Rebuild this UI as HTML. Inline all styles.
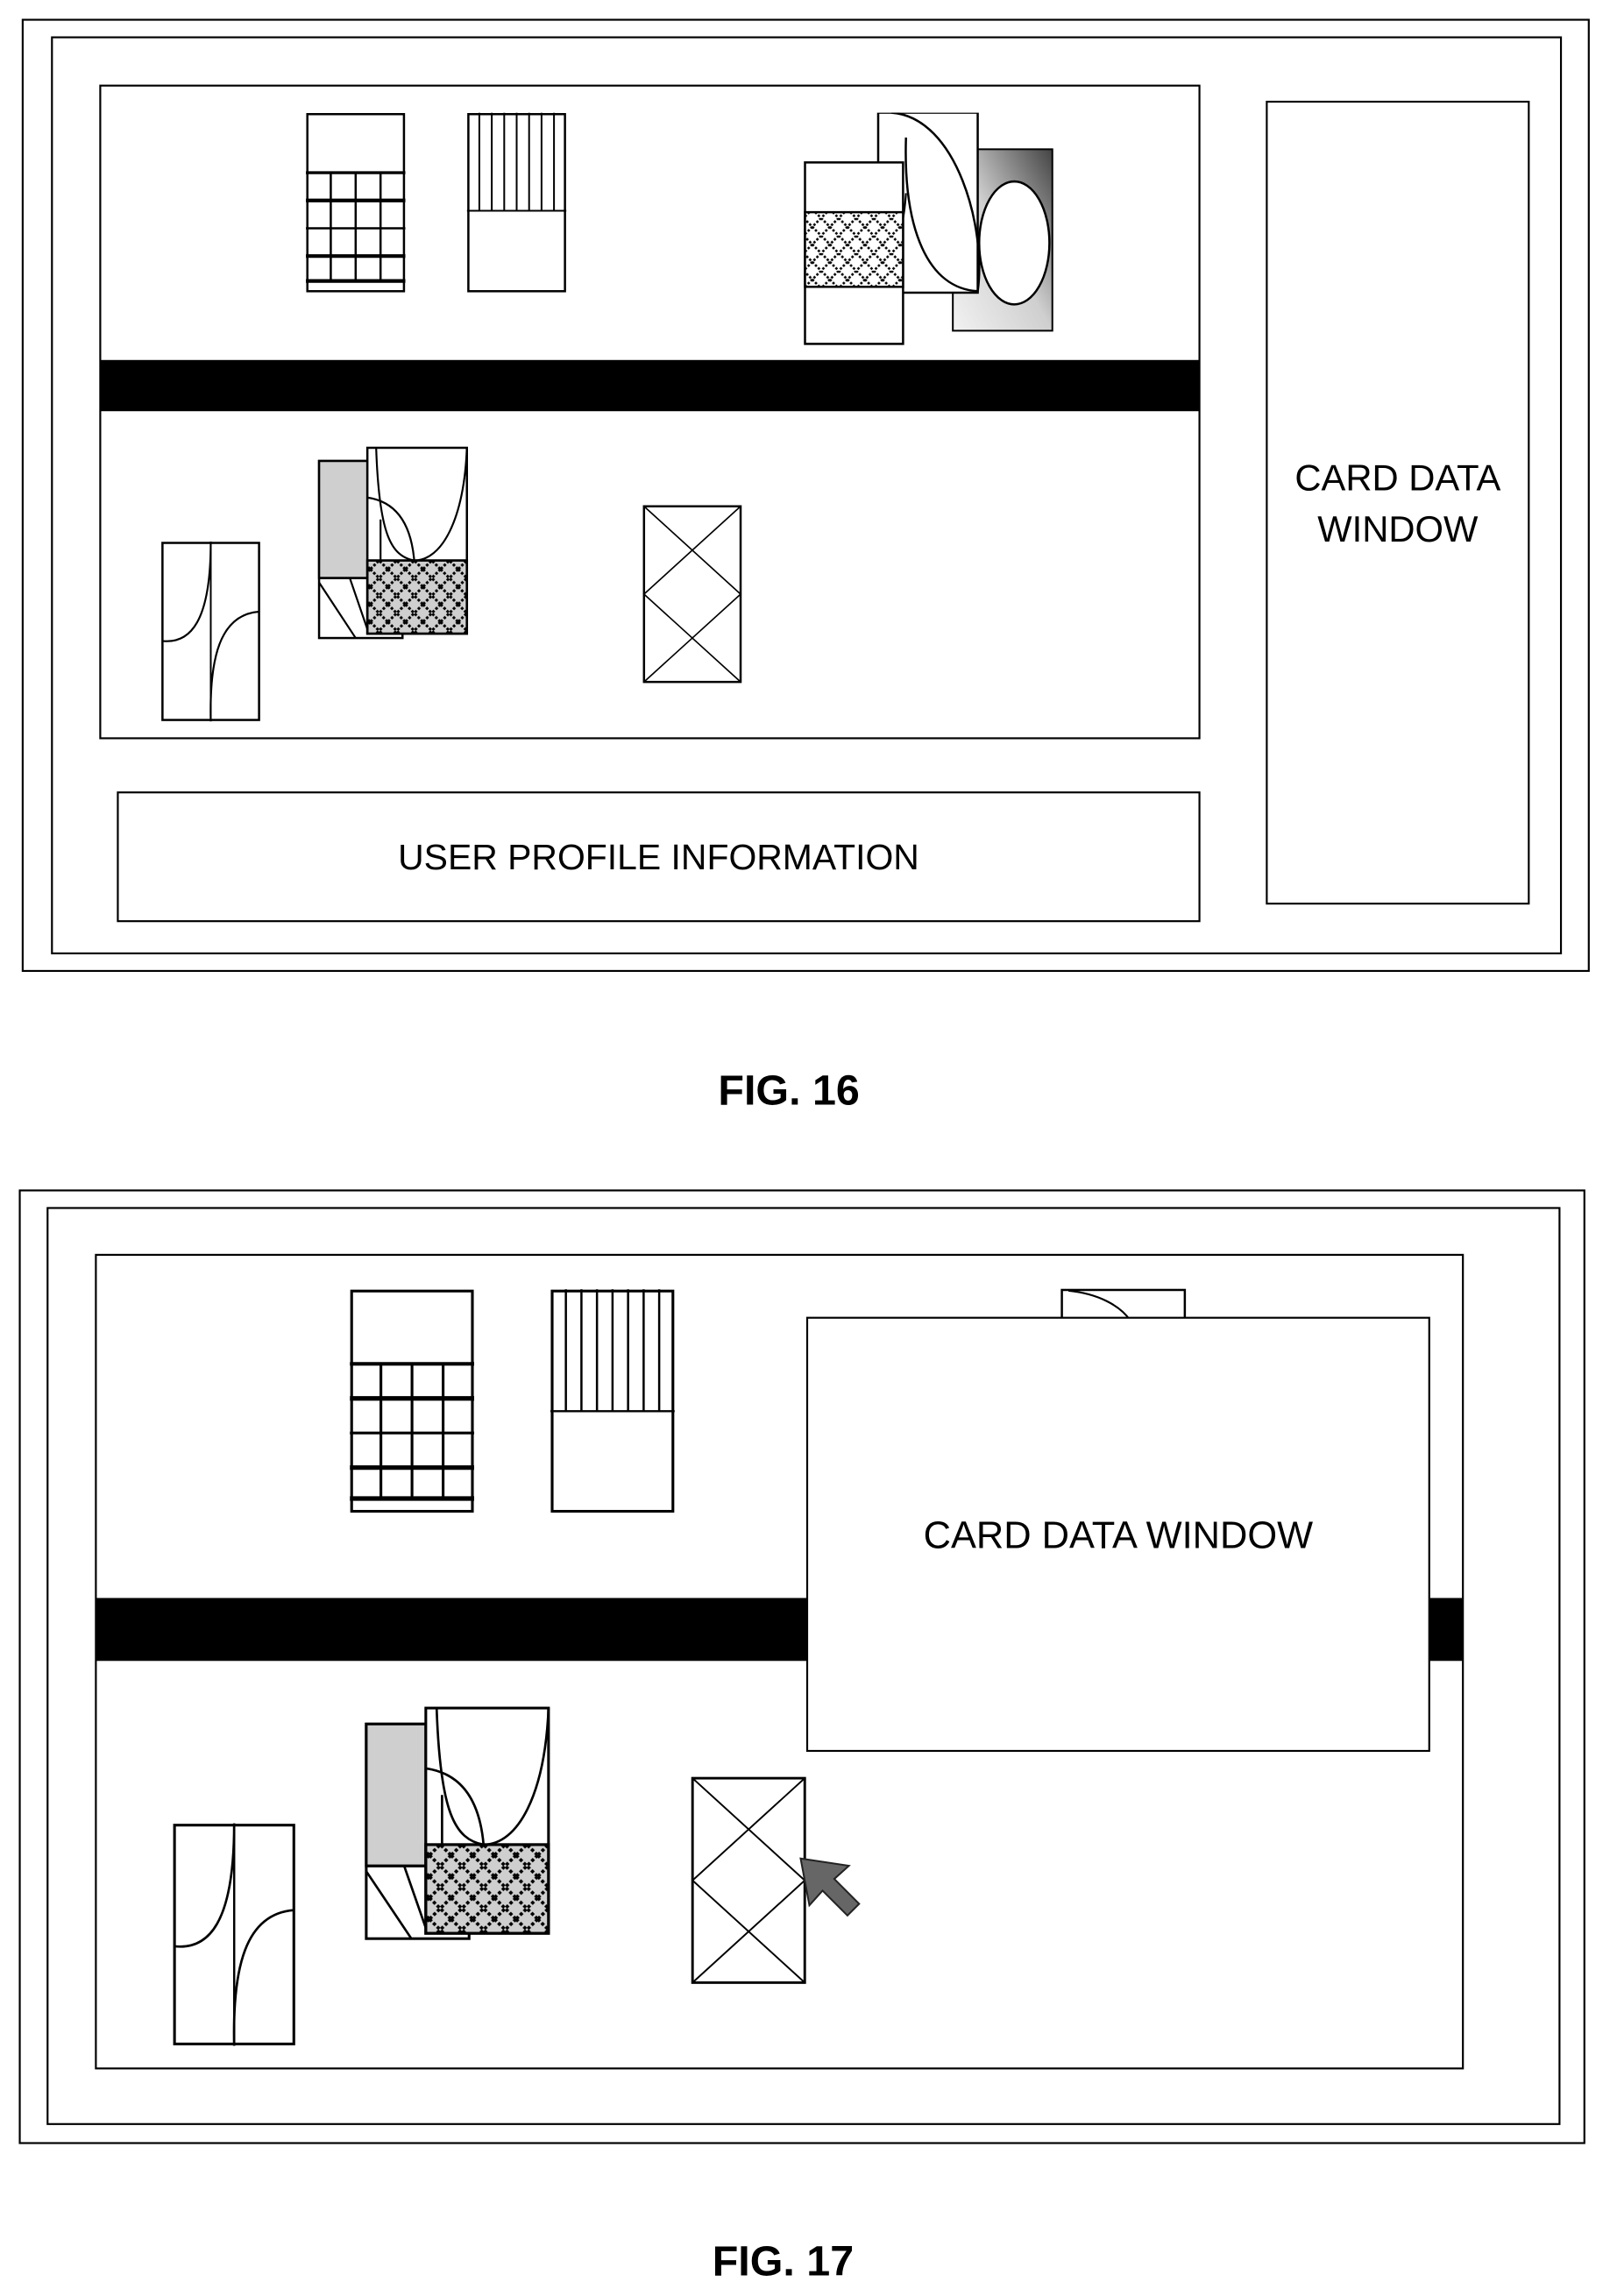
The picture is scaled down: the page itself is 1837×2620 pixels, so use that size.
<!DOCTYPE html>
<html><head><meta charset="utf-8"><style>
html,body{margin:0;padding:0;background:#fff;}
svg{display:block;}
text{font-family:"Liberation Sans",sans-serif;}
</style></head><body>
<svg width="1837" height="2620" viewBox="0 0 1100 1569" preserveAspectRatio="none" xmlns="http://www.w3.org/2000/svg">
<defs>
<pattern id="dia" width="12" height="12" patternUnits="userSpaceOnUse">
<rect width="12" height="12" fill="#fff"/>
<path d="M0,0 L12,12 M12,0 L0,12" stroke="#000" stroke-width="1.6" stroke-dasharray="1.6,1.2"/>
</pattern>
<pattern id="dia2" width="12" height="12" patternUnits="userSpaceOnUse">
<rect width="12" height="12" fill="#cfcfcf"/>
<path d="M0,0 L12,12 M12,0 L0,12" stroke="#000" stroke-width="1.8" stroke-dasharray="1.8,1.2"/>
</pattern>
<linearGradient id="grad" x1="0" y1="1" x2="1" y2="0">
<stop offset="0" stop-color="#f2f2f2"/><stop offset="0.5" stop-color="#cfcfcf"/><stop offset="1" stop-color="#444"/>
</linearGradient>
<symbol id="grid" viewBox="0 0 68 123" preserveAspectRatio="none">
<rect x="1" y="1" width="66" height="121" fill="#fff" stroke="#000" stroke-width="1.5"/>
<g stroke="#000" stroke-width="1.5">
<line x1="0" y1="41" x2="68" y2="41" stroke-width="2"/>
<line x1="0" y1="60" x2="68" y2="60" stroke-width="2.5"/>
<line x1="0" y1="79" x2="68" y2="79" stroke-width="1.5"/>
<line x1="0" y1="98" x2="68" y2="98" stroke-width="2.5"/>
<line x1="0" y1="115" x2="68" y2="115" stroke-width="2.5"/>
<line x1="17" y1="41" x2="17" y2="115"/>
<line x1="34" y1="41" x2="34" y2="115"/>
<line x1="51" y1="41" x2="51" y2="115"/>
</g></symbol>
<symbol id="stripe" viewBox="0 0 68 123" preserveAspectRatio="none">
<rect x="1" y="1" width="66" height="121" fill="#fff" stroke="#000" stroke-width="1.5"/>
<g stroke="#000" stroke-width="1.2">
<line x1="0" y1="67" x2="68" y2="67"/>
<line x1="8.5" y1="0" x2="8.5" y2="67"/><line x1="17" y1="0" x2="17" y2="67"/><line x1="25.5" y1="0" x2="25.5" y2="67"/><line x1="34" y1="0" x2="34" y2="67"/><line x1="42.5" y1="0" x2="42.5" y2="67"/><line x1="51" y1="0" x2="51" y2="67"/><line x1="59.5" y1="0" x2="59.5" y2="67"/>
</g></symbol>
<symbol id="xcard" viewBox="0 0 68 123" preserveAspectRatio="none">
<rect x="1" y="1" width="66" height="121" fill="#fff" stroke="#000" stroke-width="1.5"/>
<path d="M1,1 L67,61.5 L1,122 M67,1 L1,61.5 L67,122" fill="none" stroke="#000" stroke-width="1"/>
</symbol>
<symbol id="arc" viewBox="0 0 68 123" preserveAspectRatio="none">
<rect x="1" y="1" width="66" height="121" fill="#fff" stroke="#000" stroke-width="1.5"/>
<line x1="34" y1="0" x2="34" y2="123" stroke="#000" stroke-width="1.2"/>
<path d="M1,68 C20,70 34,55 34,0" fill="none" stroke="#000" stroke-width="1.3"/>
<path d="M34,123 C33,80 40,50 67,48" fill="none" stroke="#000" stroke-width="1.3"/>
</symbol>
<symbol id="stack" viewBox="0 0 171 160" preserveAspectRatio="none">
<rect x="102" y="25" width="68" height="124" fill="url(#grad)" stroke="#000" stroke-width="1.2"/>
<rect x="51" y="0" width="68" height="123" fill="#fff" stroke="#000" stroke-width="1.5"/>
<path d="M60,0 C105,3 125,80 119,122 C85,120 68,80 70,17" fill="none" stroke="#000" stroke-width="1.5"/>
<path d="M70,55 C68,85 62,93 52,95" fill="none" stroke="#000" stroke-width="1.3"/>
<ellipse cx="144" cy="89" rx="24" ry="42" fill="#fff" stroke="#000" stroke-width="1.5"/>
<rect x="1" y="34" width="67" height="124" fill="#fff" stroke="#000" stroke-width="1.5"/>
<rect x="1" y="68" width="67" height="51" fill="url(#dia)" stroke="#000" stroke-width="1.5"/>
</symbol>
<symbol id="lgroup" viewBox="0 0 103 132" preserveAspectRatio="none">
<rect x="1" y="10" width="57" height="121" fill="#fff" stroke="#000" stroke-width="1.5"/>
<rect x="1" y="10" width="33" height="80" fill="#cfcfcf" stroke="#000" stroke-width="1.5"/>
<line x1="1" y1="90" x2="34" y2="90" stroke="#000" stroke-width="1.5"/>
<path d="M1,93 L26,131 M22,90 L34,125" stroke="#000" stroke-width="1.3"/>
<rect x="34" y="1" width="68" height="127" fill="#fff" stroke="#000" stroke-width="1.5"/>
<path d="M40,1 C42,60 50,75 66,78 C85,78 100,50 102,1" fill="none" stroke="#000" stroke-width="1.3"/>
<path d="M34,35 C55,38 64,55 66,78" fill="none" stroke="#000" stroke-width="1.3"/>
<line x1="43" y1="50" x2="43" y2="78" stroke="#000" stroke-width="1.3"/>
<rect x="34" y="78" width="68" height="50" fill="url(#dia2)" stroke="#000" stroke-width="1.6"/>
</symbol>
</defs>

<!-- FIG 16 -->
<rect x="15.5" y="13.5" width="1070" height="650" fill="none" stroke="#000" stroke-width="1.3"/>
<rect x="35.5" y="25.5" width="1031" height="626" fill="none" stroke="#000" stroke-width="1.3"/>
<rect x="68.5" y="58.5" width="751" height="446" fill="none" stroke="#000" stroke-width="1.3"/>
<rect x="68" y="246" width="752" height="35" fill="#000"/>
<use href="#grid" x="209" y="77" width="68" height="123"/>
<use href="#stripe" x="319" y="77" width="68" height="123"/>
<use href="#stack" x="549" y="77" width="171" height="160"/>
<use href="#arc" x="110" y="370" width="68" height="123"/>
<use href="#lgroup" x="217" y="305" width="103" height="132"/>
<use href="#xcard" x="439" y="345" width="68" height="122"/>
<rect x="865.5" y="69.5" width="179" height="548" fill="none" stroke="#000" stroke-width="1.3"/>
<text x="955" y="335" font-size="25" text-anchor="middle">CARD DATA</text>
<text x="955" y="370" font-size="25" text-anchor="middle">WINDOW</text>
<rect x="80.5" y="541.5" width="739" height="88" fill="none" stroke="#000" stroke-width="1.3"/>
<text x="450" y="594" font-size="24.5" text-anchor="middle">USER PROFILE INFORMATION</text>
<text x="539" y="755" font-size="29" font-weight="bold" text-anchor="middle">FIG. 16</text>

<!-- FIG 17 -->
<rect x="13.5" y="813.5" width="1069" height="651" fill="none" stroke="#000" stroke-width="1.3"/>
<rect x="32.5" y="825.5" width="1033" height="626" fill="none" stroke="#000" stroke-width="1.3"/>
<rect x="65.5" y="857.5" width="934" height="556" fill="none" stroke="#000" stroke-width="1.3"/>
<rect x="65" y="1092" width="935" height="43" fill="#000"/>
<use href="#grid" x="239" y="881" width="85" height="153"/>
<use href="#stripe" x="376" y="881" width="85" height="153"/>
<rect x="725.5" y="881.5" width="84" height="40" fill="#fff" stroke="#000" stroke-width="1.5"/>
<path d="M730,882 C750,884 765,892 772,902" fill="none" stroke="#000" stroke-width="1.3"/>
<rect x="551.5" y="900.5" width="425" height="296" fill="#fff" stroke="#000" stroke-width="1.3"/>
<text x="764" y="1058" font-size="26" text-anchor="middle">CARD DATA WINDOW</text>
<use href="#arc" x="118" y="1246" width="84" height="152"/>
<use href="#lgroup" x="249" y="1166" width="127" height="160"/>
<use href="#xcard" x="472" y="1214" width="79" height="142"/>
<polygon points="547,1270 580,1275 570,1284 587,1301 579,1309 562,1292 553,1302" fill="#666" stroke="#222" stroke-width="1.2"/>
<text x="535" y="1555" font-size="29" font-weight="bold" text-anchor="middle">FIG. 17</text>
</svg>
</body></html>
